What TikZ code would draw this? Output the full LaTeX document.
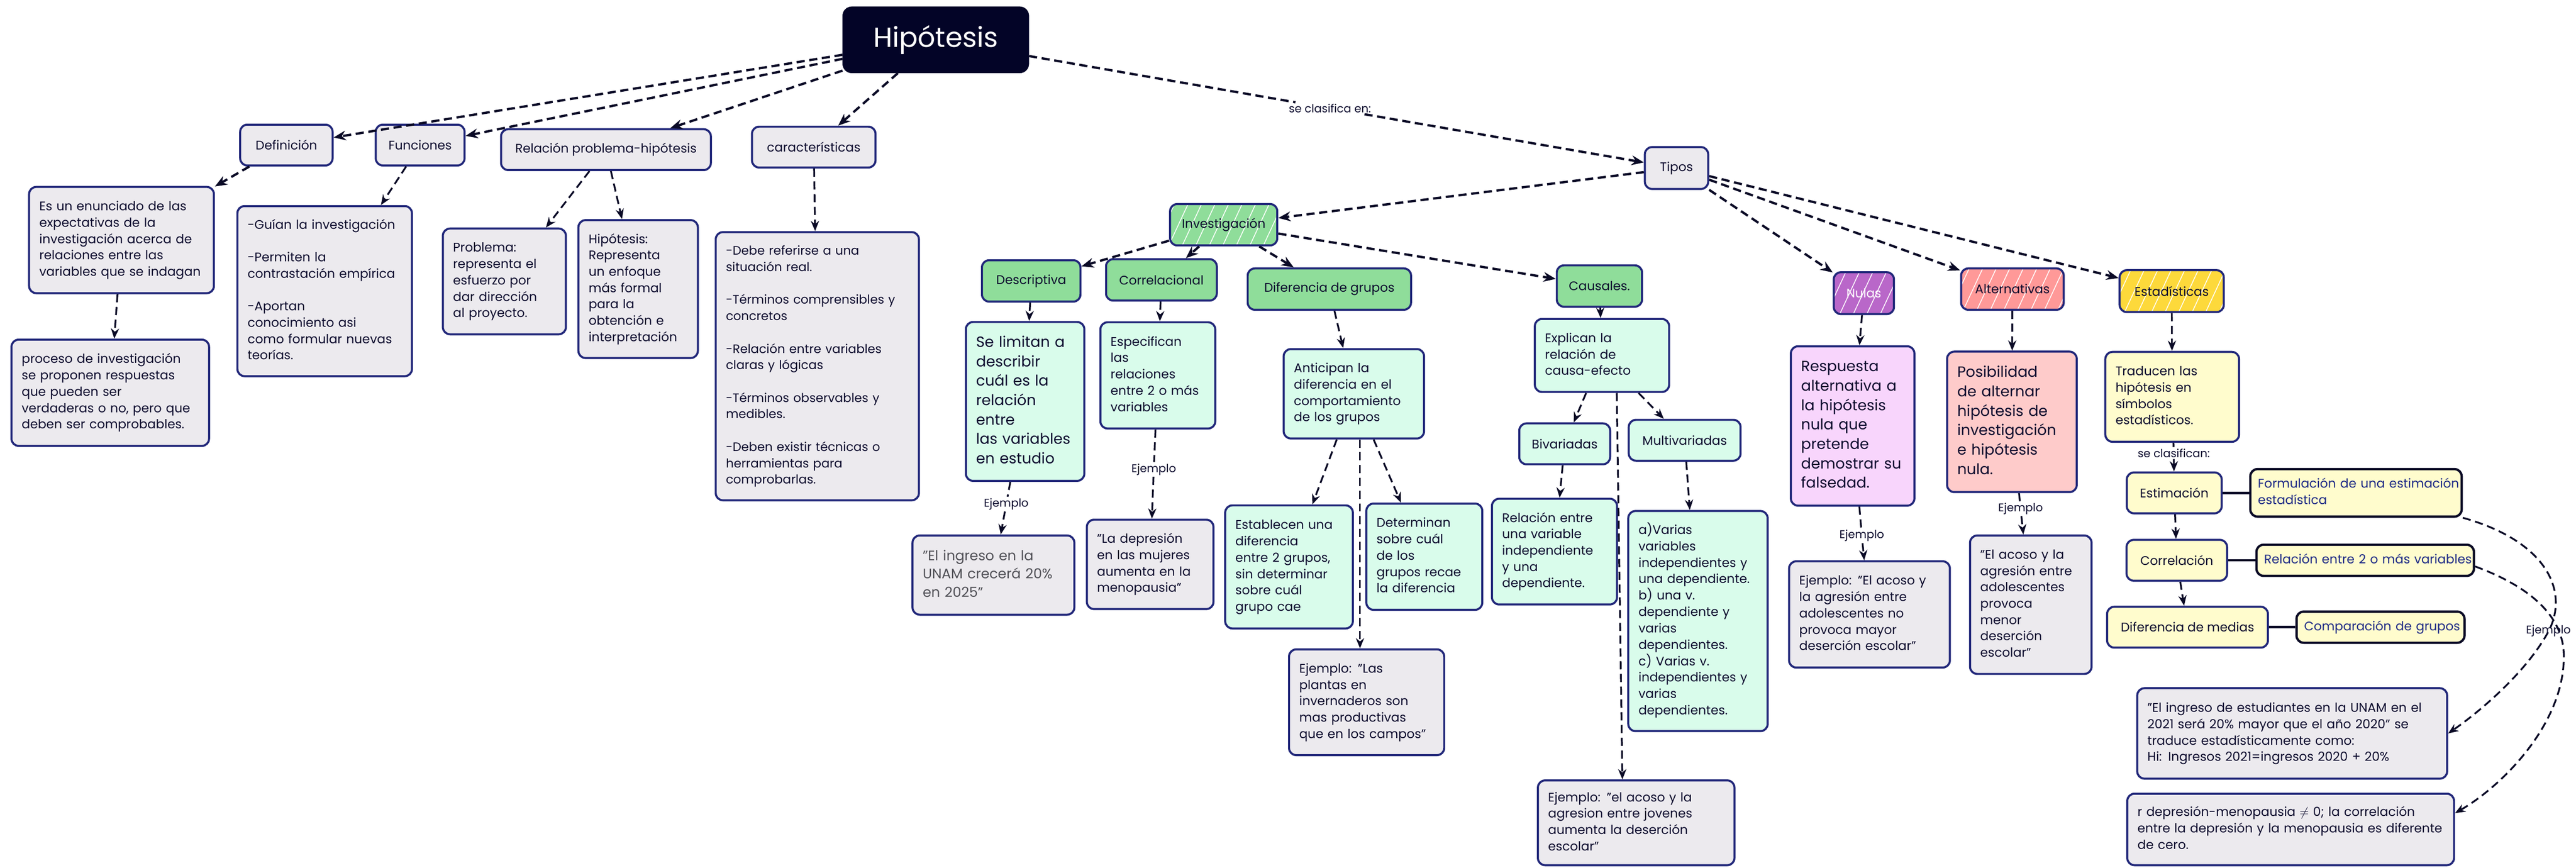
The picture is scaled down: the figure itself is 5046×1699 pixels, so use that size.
\documentclass[tikz,border=0pt]{standalone}
\usepackage{fontspec}
\setmainfont{Poppins}
\usetikzlibrary{arrows.meta,patterns.meta,calc}
\newcommand{\myfs}[2]{\fontsize{#1}{#2}\selectfont}
\newcommand{\tlines}[1]{\begin{tabular}{@{}l@{}}#1\end{tabular}}
\definecolor{bord}{HTML}{22287A}
\definecolor{ink}{HTML}{0D0C2E}
\definecolor{arrc}{HTML}{0A0A26}
\definecolor{gfill}{HTML}{ECEAEE}
\definecolor{mint}{HTML}{D9FCEB}
\definecolor{hgreen}{HTML}{8FDD9A}
\definecolor{purp}{HTML}{B967C9}
\definecolor{pinkl}{HTML}{F8D5FC}
\definecolor{salm}{HTML}{FF9998}
\definecolor{salml}{HTML}{FECBCA}
\definecolor{yel}{HTML}{FDD93B}
\definecolor{yell}{HTML}{FFFCCD}
\definecolor{hipc}{HTML}{030427}
\definecolor{navyt}{HTML}{1E2A86}
\definecolor{grayt}{HTML}{505056}
\tikzset{
  base/.style={draw=bord, line width=4pt, rounded corners=14pt, align=left,
    inner xsep=20pt, inner ysep=6pt, text=ink, font=\myfs{24.5}{32}},
  gbox/.style={base, fill=gfill},
  mbox/.style={base, fill=mint},
  hdr/.style={base, fill=gfill, align=center, minimum height=80pt},
  hatch/.style={base, align=center, minimum height=81pt,
    preaction={fill=#1},
    preaction={pattern={Lines[angle=65,distance=24pt,line width=1.6pt]}, pattern color=white}},
  ybox/.style={base, fill=yell},
  dbox/.style={base, fill=yell, draw=arrc, line width=4.5pt, text=navyt},
  lbl/.style={fill=white, inner sep=3pt, text=ink, font=\myfs{22}{26}},
  ar/.style={draw=arrc, line width=4.5pt, dash pattern=on 16pt off 9pt,
    -{Stealth[length=24pt,width=19pt]}},
  art/.style={draw=arrc, line width=3.5pt, dash pattern=on 16pt off 9pt,
    -{Stealth[length=20pt,width=16pt]}},
  sline/.style={draw=arrc, line width=5pt},
}
\begin{document}
\begin{tikzpicture}[x=1pt,y=-1pt]
\useasboundingbox (0,0) rectangle (5046,1699);
\fill[white] (0,0) rectangle (5046,1699);

% ---------- top ----------
\node[fill=hipc, draw=hipc, rounded corners=18pt, text=white, font=\myfs{54}{62},
  minimum width=365pt, minimum height=130pt, inner sep=0pt] (hip) at (1833,78) {Hipótesis};

\node[hdr, minimum width=181pt, inner xsep=6pt] (def) at (561,284) {Definición};
\node[hdr, minimum width=174pt, inner xsep=6pt] (func) at (823,284) {Funciones};
\node[hdr, minimum width=411pt, inner xsep=6pt] (rel) at (1187,293) {Relación problema-hipótesis};
\node[hdr, minimum width=242pt, inner xsep=6pt] (car) at (1594,288) {características};

\node[gbox, text width=322pt, minimum height=208pt] (deftx) at (238,470)
  {\tlines{Es un enunciado de las\\expectativas de la\\investigación acerca de\\relaciones entre las\\variables que se indagan}};
\node[gbox, text width=347pt, minimum height=208pt] (proc) at (216,769)
  {\tlines{proceso de investigación\\se proponen respuestas\\que pueden ser\\verdaderas o no, pero que\\deben ser comprobables.}};
\node[gbox, text width=302pt, minimum height=333pt] (functx) at (636,570)
  {\tlines{-Guían la investigación\\[32pt]-Permiten la\\contrastación empírica\\[32pt]-Aportan\\conocimiento asi\\como formular nuevas\\teorías.}};
\node[gbox, text width=201pt, minimum height=207pt] (prob) at (988,551)
  {\tlines{Problema:\\representa el\\esfuerzo por\\dar dirección\\al proyecto.}};
\node[gbox, text width=194pt, minimum height=270pt] (hiptx) at (1250,566)
  {\tlines{Hipótesis:\\Representa\\un enfoque\\más formal\\para la\\obtención e\\interpretación}};
\node[gbox, text width=358pt, minimum height=525pt, font=\myfs{24}{32}] (cartx) at (1601,717)
  {\tlines{-Debe referirse a una\\situación real.\\[32pt]-Términos comprensibles y\\concretos\\[32pt]-Relación entre variables\\claras y lógicas\\[32pt]-Términos observables y\\medibles.\\[32pt]-Deben existir técnicas o\\herramientas para\\comprobarlas.}};

% ---------- tipos ----------
\node[hdr, minimum width=124pt, minimum height=82pt, inner xsep=6pt] (tipos) at (3284,329) {Tipos};
\node[lbl] (l1) at (2605,212) {se clasifica en:};

\node[hatch=hgreen, minimum width=210pt, inner xsep=6pt] (inv) at (2397,440) {Investigación};
\node[base, fill=hgreen, align=center, minimum height=81pt, minimum width=193pt, inner xsep=6pt] (desc) at (2020,550) {Descriptiva};
\node[base, fill=hgreen, align=center, minimum height=81pt, minimum width=217pt, inner xsep=6pt] (corr) at (2275,548) {Correlacional};
\node[base, fill=hgreen, align=center, minimum height=81pt, minimum width=320pt, inner xsep=6pt] (dif) at (2604,566) {Diferencia de grupos};
\node[base, fill=hgreen, align=center, minimum height=81pt, minimum width=167pt, inner xsep=6pt] (caus) at (3133,560) {Causales.};

\node[mbox, text width=192pt, minimum height=311pt, font=\myfs{29}{38}] (selim) at (2008,786)
  {\tlines{Se limitan a\\describir\\cuál es la\\relación\\entre\\las variables\\en estudio}};
\node[mbox, text width=185pt, minimum height=208pt] (espec) at (2268,735)
  {\tlines{Especifican\\las\\relaciones\\entre 2 o más\\variables}};
\node[gbox, text width=277pt, minimum height=155pt, font=\myfs{27}{36}, text=grayt] (ingreso) at (1946,1126)
  {\tlines{"El ingreso en la\\UNAM crecerá 20\%\\en 2025"}};
\node[gbox, text width=208pt, minimum height=175pt] (depr) at (2253,1105)
  {\tlines{"La depresión\\en las mujeres\\aumenta en la\\menopausia"}};
\node[lbl] (l2) at (1971,987) {Ejemplo};
\node[lbl] (l3) at (2260,919) {Ejemplo};

\node[mbox, text width=235pt, minimum height=175pt] (antic) at (2652,771)
  {\tlines{Anticipan la\\diferencia en el\\comportamiento\\de los grupos}};
\node[mbox, text width=210pt, minimum height=241pt] (estab) at (2525,1110)
  {\tlines{Establecen una\\diferencia\\entre 2 grupos,\\sin determinar\\sobre cuál\\grupo cae}};
\node[mbox, text width=187pt, minimum height=208pt] (deter) at (2790,1090)
  {\tlines{Determinan\\sobre cuál\\de los\\grupos recae\\la diferencia}};
\node[gbox, text width=264pt, minimum height=207pt] (plantas) at (2677,1375)
  {\tlines{Ejemplo: "Las\\plantas en\\invernaderos son\\mas productivas\\que en los campos"}};

\node[mbox, text width=223pt, minimum height=143pt] (expl) at (3138,696)
  {\tlines{Explican la\\relación de\\causa-efecto}};
\node[mbox, align=center, minimum width=178pt, minimum height=80pt, inner xsep=6pt] (biv) at (3065,869) {Bivariadas};
\node[mbox, align=center, minimum width=219pt, minimum height=80pt, inner xsep=6pt] (multi) at (3300,862) {Multivariadas};
\node[mbox, text width=205pt, minimum height=207pt] (relvar) at (3045,1080)
  {\tlines{Relación entre\\una variable\\independiente\\y una\\dependiente.}};
\node[mbox, text width=233pt, minimum height=431pt] (varias) at (3326,1216)
  {\tlines{a)Varias\\variables\\independientes y\\una dependiente.\\b) una v.\\dependiente y\\varias\\dependientes.\\c) Varias v.\\independientes y\\varias\\dependientes.}};
\node[gbox, text width=345pt, minimum height=166pt] (acoso) at (3205,1611)
  {\tlines{Ejemplo: "el acoso y la\\agresion entre jovenes\\aumenta la deserción\\escolar"}};

% ---------- nulas / alternativas / estadisticas ----------
\node[hatch=purp, minimum width=118pt, minimum height=82pt, inner xsep=4pt, text=white] (nulas) at (3651,574) {Nulas};
\node[hatch=salm, minimum width=201pt, inner xsep=6pt] (alt) at (3942,566) {Alternativas};
\node[hatch=yel, minimum width=204pt, minimum height=82pt, inner xsep=6pt] (est) at (4254,570) {Estadísticas};

\node[base, fill=pinkl, text width=202pt, minimum height=312pt, font=\myfs{29}{38}] (resp) at (3629,834)
  {\tlines{Respuesta\\alternativa a\\la hipótesis\\nula que\\pretende\\demostrar su\\falsedad.}};
\node[base, fill=salml, text width=214pt, minimum height=275pt, font=\myfs{29}{38}] (posib) at (3941,826)
  {\tlines{Posibilidad\\de alternar\\hipótesis de\\investigación\\e hipótesis\\nula.}};
\node[ybox, text width=222pt, minimum height=176pt] (trad) at (4255,777)
  {\tlines{Traducen las\\hipótesis en\\símbolos\\estadísticos.}};
\node[gbox, text width=275pt, minimum height=208pt] (nulex) at (3662,1203)
  {\tlines{Ejemplo: "El acoso y\\la agresión entre\\adolescentes no\\provoca mayor\\deserción escolar"}};
\node[gbox, text width=198pt, minimum height=271pt] (altex) at (3978,1184)
  {\tlines{"El acoso y la\\agresión entre\\adolescentes\\provoca\\menor\\deserción\\escolar"}};
\node[lbl] (l4) at (3647,1049) {Ejemplo};
\node[lbl] (l5) at (3958,996) {Ejemplo};
\node[lbl] (l6) at (4258,887) {se clasifican:};

\node[ybox, align=center, minimum width=186pt, minimum height=80pt, inner xsep=6pt] (estim) at (4259,965) {Estimación};
\node[ybox, align=center, minimum width=197pt, minimum height=80pt, inner xsep=6pt] (corrl) at (4264,1097) {Correlación};
\node[ybox, align=center, minimum width=315pt, minimum height=80pt, inner xsep=6pt] (difm) at (4285,1228) {Diferencia de medias};
\node[dbox, text width=384pt, minimum height=93pt, inner xsep=15pt] (form) at (4615,965)
  {\tlines{Formulación de una estimación\\estadística}};
\node[dbox, text width=396pt, minimum height=61pt, inner xsep=15pt] (rel2) at (4633,1097)
  {\tlines{Relación entre 2 o más variables}};
\node[dbox, text width=299pt, minimum height=61pt, inner xsep=15pt] (comp) at (4663,1228)
  {\tlines{Comparación de grupos}};
\node[gbox, text width=567pt, minimum height=177pt] (hibox) at (4490,1436)
  {\tlines{"El ingreso de estudiantes en la UNAM en el\\2021 será 20\% mayor que el año 2020" se\\traduce estadísticamente como:\\Hi: Ingresos 2021=ingresos 2020 + 20\%}};
\node[gbox, text width=600pt, minimum height=140pt] (rbox) at (4487,1624)
  {\tlines{r depresión-menopausia $\neq$ 0; la correlación\\entre la depresión y la menopausia es diferente\\de cero.}};

% ---------- connectors ----------
\draw[ar] (hip) -- (def);
\draw[ar] (hip) -- (func);
\draw[ar] (hip) -- (rel);
\draw[ar] (hip) -- (car);
\draw[ar] (hip) -- (l1) -- (tipos);
\draw[ar] (def) -- (deftx);
\draw[art] (deftx) -- (proc);
\draw[art] (func) -- (functx);
\draw[art] (rel) -- (prob);
\draw[art] (rel) -- (hiptx);
\draw[art] (car) -- (cartx);

\draw[ar] (tipos) -- (inv);
\draw[ar] (tipos) -- (nulas);
\draw[ar] (tipos) -- (alt);
\draw[ar] (tipos) -- (est);
\draw[ar] (inv) -- (desc);
\draw[ar] (inv) -- (corr);
\draw[ar] (inv) -- (dif);
\draw[ar] (inv) -- (caus);
\draw[art] (desc) -- (selim);
\draw[art] (corr) -- (espec);
\draw[art] (dif) -- (antic);
\draw[art] (caus) -- (expl);
\draw[art] (selim) -- (l2) -- (ingreso);
\draw[art] (espec) -- (l3) -- (depr);
\draw[art] (antic) -- (estab);
\draw[art] (antic) -- (deter);
\draw[art] ($(antic.south)+(12,0)$) -- ($(plantas.north)+(-13,0)$);
\draw[art] (expl) -- (biv);
\draw[art] (expl) -- (multi);
\draw[art] ($(expl.south)+(29,0)$) -- ($(acoso.north)+(-27,0)$);
\draw[art] (biv) -- (relvar);
\draw[art] (multi) -- (varias);

\draw[art] (nulas) -- (resp);
\draw[art] (alt) -- (posib);
\draw[art] (est) -- (trad);
\draw[art] (resp) -- (l4) -- (nulex);
\draw[art] (posib) -- (l5) -- (altex);
\draw[art] (trad) -- (l6) -- (estim);
\draw[art] (estim) -- (corrl);
\draw[art] (corrl) -- (difm);
\draw[sline] (estim) -- (form);
\draw[sline] (corrl) -- (rel2);
\draw[sline] (difm) -- (comp);

\draw[art] (form.south east) .. controls (4990,1060) and (5035,1160) .. (4990,1240)
  .. controls (4945,1320) and (4855,1395) .. (hibox.east);
\draw[art] ($(rel2.east)+(0,12)$) .. controls (4960,1150) and (5025,1210) .. (5022,1290)
  .. controls (5020,1420) and (4900,1540) .. ($(rbox.east)+(0,-32)$);
\node[text=ink, font=\myfs{22}{26}, inner sep=2pt] (l7) at (4992,1235) {Ejemplo};
\end{tikzpicture}
\end{document}
